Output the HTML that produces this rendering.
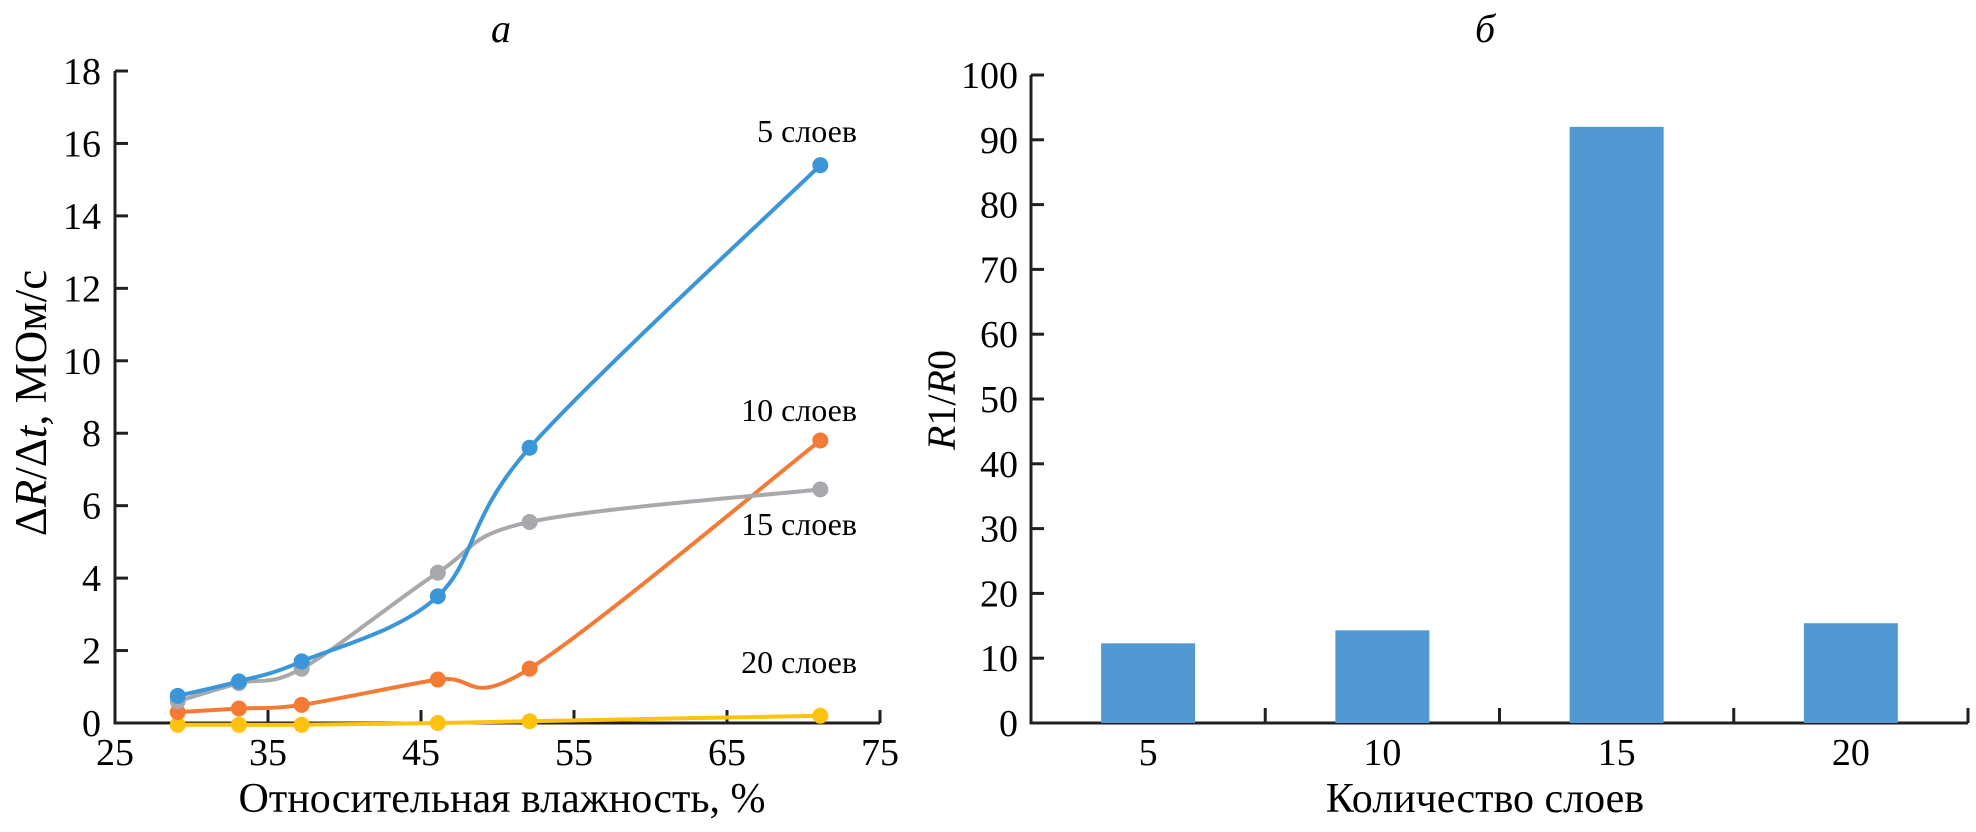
<!DOCTYPE html>
<html><head><meta charset="utf-8"><style>
body{margin:0;background:#fff}
svg{display:block;font-family:"Liberation Serif",serif}
</style></head><body>
<svg id="c" width="1976" height="832" viewBox="0 0 1976 832">
<text x="501" y="42" font-size="40" font-style="italic" text-anchor="middle">а</text>
<text x="1485" y="42" font-size="40" font-style="italic" text-anchor="middle">б</text>
<text transform="translate(46,403) rotate(-90)" font-size="45" text-anchor="middle">Δ<tspan font-style="italic">R</tspan>/Δ<tspan font-style="italic">t</tspan>, МОм/с</text>
<text transform="translate(955,400) rotate(-90)" font-size="40" text-anchor="middle"><tspan font-style="italic">R</tspan>1/<tspan font-style="italic">R</tspan>0</text>
<text x="502" y="812" font-size="42" text-anchor="middle">Относительная влажность, %</text>
<text x="1485" y="812" font-size="42" text-anchor="middle">Количество слоев</text>
<g id="L"></g><g id="R"></g>
</svg>
<script>
const humidity=[29.1,33.1,37.2,46.1,52.1,71.1];
const s5=[0.75,1.15,1.7,3.5,7.6,15.4];
const s10=[0.3,0.4,0.5,1.2,1.5,7.8];
const s15=[0.6,1.1,1.5,4.15,5.55,6.45];
const s20=[-0.05,-0.05,-0.05,0.0,0.05,0.2];
const leftYTicks=[0,2,4,6,8,10,12,14,16,18];
const leftXTicks=[25,35,45,55,65,75];
const layers=["5","10","15","20"];
const ratio=[12.3,14.3,92,15.4];
const rightYTicks=[0,10,20,30,40,50,60,70,80,90,100];

const NS="http://www.w3.org/2000/svg";
function mk(p,t,a){const e=document.createElementNS(NS,t);for(const k in a)e.setAttribute(k,a[k]);p.appendChild(e);return e;}
function num(p,x,y,s,anchor){const tx=mk(p,'text',{x,y,'font-size':38,'text-anchor':anchor});tx.textContent=s;return tx;}
const L=document.getElementById('L'),R=document.getElementById('R');
const lx=v=>115+(v-25)*(880-115)/50, ly=v=>723-v*(723-71)/18;
let e=mk(L,'path',{d:`M115,71 V723 H880`,stroke:'#231f20','stroke-width':3,fill:'none'});


leftYTicks.forEach(t=>{
 let k=mk(L,'line',{x1:115,x2:128,y1:ly(t),y2:ly(t),stroke:'#231f20','stroke-width':3});
 
 
 let tx=num(L,101,ly(t)+13,t,'end');
 
 
});
leftXTicks.forEach(t=>{
 if(t>25){let k=mk(L,'line',{x1:lx(t),x2:lx(t),y1:723,y2:710,stroke:'#231f20','stroke-width':3});
 
 }
 let tx=num(L,lx(t),765,t,'middle');
 
 
});
function spline(xs,ys){
 const P=xs.map((x,i)=>[lx(x),ly(ys[i])]);let d=`M${P[0][0]},${P[0][1]}`;const t=0.33;
 for(let i=0;i<P.length-1;i++){const p0=P[i-1]||P[i],p1=P[i],p2=P[i+1],p3=P[i+2]||P[i+1];
  d+=` C${p1[0]+(p2[0]-p0[0])*t/2},${p1[1]+(p2[1]-p0[1])*t/2} ${p2[0]-(p3[0]-p1[0])*t/2},${p2[1]-(p3[1]-p1[1])*t/2} ${p2[0]},${p2[1]}`;}
 return d;}
const series=[[s20,'#ffc20e','series-20-layers'],[s10,'#f47b35','series-10-layers'],[s15,'#a7a9ac','series-15-layers'],[s5,'#3a96d8','series-5-layers']];
series.forEach(([ys,c,n])=>{
 const g=mk(L,'g',{});
 
 
 mk(g,'path',{d:spline(humidity,ys),stroke:c,'stroke-width':4,fill:'none'});
 humidity.forEach((x,i)=>{const p=mk(g,'circle',{cx:lx(x),cy:ly(ys[i]),r:8,fill:c});
  
  });
});
[["5 слоев",807,142],["10 слоев",799,421],["15 слоев",799,535],["20 слоев",799,673]].forEach(([t,x,y])=>{
 const tx=mk(L,'text',{x,y,'font-size':32,'text-anchor':'middle'});tx.textContent=t;
 
 
});
const x0=1031,x1=1968,bw=(x1-x0)/layers.length;
const ry=v=>723-v*(723-75)/100;
e=mk(R,'path',{d:`M${x0},75 V723 H${x1}`,stroke:'#231f20','stroke-width':3,fill:'none'});


rightYTicks.forEach(t=>{
 let k=mk(R,'line',{x1:x0,x2:x0+13,y1:ry(t),y2:ry(t),stroke:'#231f20','stroke-width':3});
 
 
 let tx=num(R,1018,ry(t)+13,t,'end');
 
 
});
layers.forEach((c,i)=>{
 const cx=x0+bw*(i+0.5);
 const b=mk(R,'rect',{x:cx-47,y:ry(ratio[i]),width:94,height:723-ry(ratio[i]),fill:'#5299d3'});
 
 
 const k=mk(R,'line',{x1:x0+bw*(i+1),x2:x0+bw*(i+1),y1:723,y2:708,stroke:'#231f20','stroke-width':3});
 
 
 const tx=num(R,cx,765,c,'middle');
 
 
});
</script>
</body></html>
